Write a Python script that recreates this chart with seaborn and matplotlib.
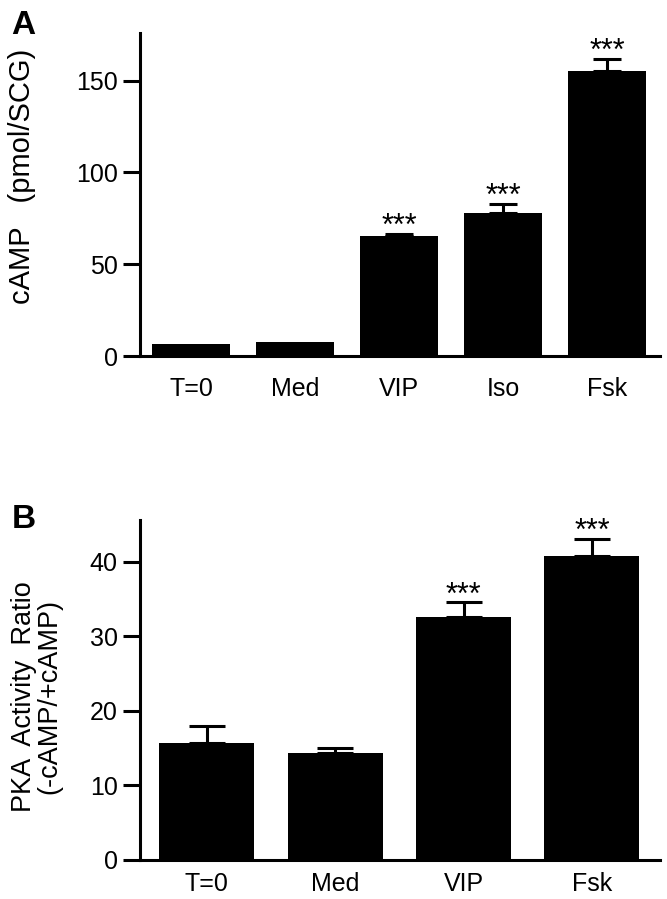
import numpy as np
import seaborn as sns
import matplotlib
matplotlib.use("Agg")
import matplotlib.pyplot as plt

# Panel A: cAMP
a_labels = ["T=0", "Med", "VIP", "Iso", "Fsk"]
a_mean = [6.5, 7.6, 65.4, 78.0, 155.4]
a_sem = [0, 0, 1.1, 4.9, 6.6]
a_stars = ["", "", "***", "***", "***"]
a_ticks = [0, 50, 100, 150]

# Panel B: PKA activity ratio
b_labels = ["T=0", "Med", "VIP", "Fsk"]
b_mean = [15.7, 14.4, 32.6, 40.8]
b_sem = [2.3, 0.6, 2.0, 2.3]
b_stars = ["", "", "***", "***"]
b_ticks = [0, 10, 20, 30, 40]

sns.set_style("ticks")
plt.rcParams["font.family"] = ["Liberation Sans", "DejaVu Sans"]
for k in ["text.color", "axes.labelcolor", "xtick.color", "ytick.color",
          "axes.edgecolor"]:
    plt.rcParams[k] = "black"

fig = plt.figure(figsize=(6.67, 8.99), dpi=100)
axA = fig.add_axes([0.2099, 0.604, 0.7796, 0.3593])
axB = fig.add_axes([0.2099, 0.0434, 0.7796, 0.378])


def draw(ax, labels, mean, sem, stars, ticks, ylim, xlim, width, capsize, xpad):
    sns.barplot(x=labels, y=mean, color="black", width=width, saturation=1,
                edgecolor="none", ax=ax)
    idx = [i for i, e in enumerate(sem) if e > 0]
    ax.errorbar(idx, [mean[i] for i in idx],
                yerr=[[0] * len(idx), [sem[i] for i in idx]],
                fmt="none", ecolor="black", elinewidth=2.2,
                capsize=capsize, capthick=2.2)
    # significance stars sit just above the error cap
    for i, s in enumerate(stars):
        if s:
            ax.annotate(s, (i, mean[i] + sem[i]), xytext=(0, -1),
                        textcoords="offset points", ha="center",
                        va="baseline", fontsize=22)
    ax.set_ylim(*ylim)
    ax.set_xlim(*xlim)
    ax.set_yticks(ticks)
    sns.despine(ax=ax)
    for sp in ["left", "bottom"]:
        ax.spines[sp].set_linewidth(2.2)
    ax.tick_params(axis="y", length=12, width=2.2, labelsize=18, pad=4)
    ax.tick_params(axis="x", length=0, labelsize=18, pad=xpad)


draw(axA, a_labels, a_mean, a_sem, a_stars, a_ticks, (0, 176), (-0.49, 4.51),
     0.75, 10, 15)
draw(axB, b_labels, b_mean, b_sem, b_stars, b_ticks, (0, 45.6), (-0.52, 3.53),
     0.74, 13.3, 9)

axA.set_ylabel("cAMP   (pmol/SCG)", fontsize=21)
axA.yaxis.set_label_coords(-0.2, 0.555)
axB.set_ylabel("PKA  Activity  Ratio\n(-cAMP/+cAMP)", fontsize=19.5,
               linespacing=0.95)
axB.yaxis.set_label_coords(-0.15, 0.48)

fig.text(0.017, 0.962, "A", fontsize=24, fontweight="bold")
fig.text(0.017, 0.413, "B", fontsize=24, fontweight="bold")

fig.savefig("out.png", dpi=100)
